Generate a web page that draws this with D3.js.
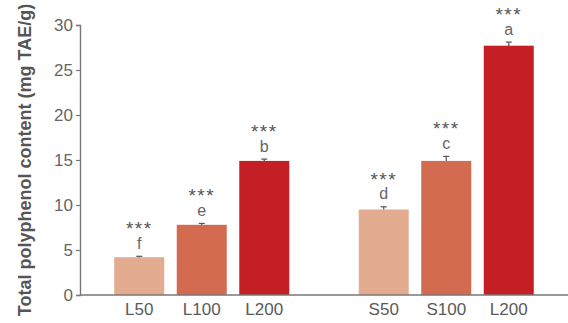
<!DOCTYPE html>
<html>
<head>
<meta charset="utf-8">
<script src="https://cdn.jsdelivr.net/npm/d3@7"></script>
<style>
  html, body { margin: 0; padding: 0; background: #fff; }
  svg { display: block; }
</style>
</head>
<body>
<svg id="chart" width="568" height="323"></svg>
<script>
// Total polyphenol content by extract and concentration
const groups = ["L", "S"];
const labels = [["L50", "L100", "L200"], ["S50", "S100", "L200"]];
const values = [[4.2, 7.8, 14.9], [9.5, 14.9, 27.7]];
const errors = [[0.1, 0.15, 0.2], [0.3, 0.5, 0.4]];
const letters = [["f", "e", "b"], ["d", "c", "a"]];
const signif = [["***", "***", "***"], ["***", "***", "***"]];
const shades = ["#E3AC90", "#D36B50", "#C41F24"];
const yTicks = [0, 5, 10, 15, 20, 25, 30];
const yTitle = "Total polyphenol content (mg TAE/g)";

const W = 568, H = 323;
const m = { top: 25, right: 0, bottom: 28, left: 80 };
const font = "'Liberation Sans', Arial, sans-serif";

const svg = d3.select("#chart");

const y = d3.scaleLinear().domain([0, 30]).range([H - m.bottom, m.top]);
const x0 = d3.scaleBand().domain(groups).range([m.left, W - m.right])
  .paddingInner(0.284).paddingOuter(0.14);
const x1 = d3.scaleBand().domain(d3.range(3)).range([0, x0.bandwidth()])
  .paddingInner(0.2).paddingOuter(0);

const rows = [];
groups.forEach((g, gi) => {
  labels[gi].forEach((lab, i) => {
    rows.push({ g, i, lab, v: values[gi][i], e: errors[gi][i],
                letter: letters[gi][i], sig: signif[gi][i] });
  });
});
const cx = d => x0(d.g) + x1(d.i) + x1.bandwidth() / 2;

// error bars (drawn first so the lower half sits behind the bar)
const eb = svg.append("g").attr("stroke", "#555").attr("stroke-width", 1.2);
rows.forEach(d => {
  eb.append("line").attr("x1", cx(d)).attr("x2", cx(d))
    .attr("y1", y(d.v - d.e)).attr("y2", y(d.v + d.e));
  eb.append("line").attr("x1", cx(d) - 3).attr("x2", cx(d) + 3)
    .attr("y1", y(d.v + d.e)).attr("y2", y(d.v + d.e));
});

// bars
svg.append("g").selectAll("rect").data(rows).join("rect")
  .attr("x", d => x0(d.g) + x1(d.i))
  .attr("width", x1.bandwidth())
  .attr("y", d => y(d.v))
  .attr("height", d => y(0) - y(d.v))
  .attr("fill", d => shades[d.i]);

// y axis
const ya = svg.append("g").attr("transform", `translate(${m.left},0)`)
  .call(d3.axisLeft(y).tickValues(yTicks).tickSize(4).tickPadding(3));
ya.select(".domain").attr("stroke", "#777").attr("stroke-width", 1.4);
ya.selectAll(".tick line").attr("stroke", "#777").attr("stroke-width", 1.2);
ya.selectAll(".tick text").attr("fill", "#666")
  .style("font-family", font).style("font-size", "17px");

// x axis baseline with category labels
const xa = svg.append("g").attr("transform", `translate(0,${y(0)})`);
xa.append("line").attr("x1", m.left).attr("x2", W)
  .attr("stroke", "#777").attr("stroke-width", 1.4);
xa.selectAll("text").data(rows).join("text")
  .attr("x", cx).attr("y", 20)
  .attr("text-anchor", "middle")
  .attr("fill", "#5a5a5a")
  .style("font-family", font).style("font-size", "17px")
  .text(d => d.lab);

// significance stars over the group letter, stacked in one label
const ann = svg.append("g").style("font-family", font);
const lbl = ann.selectAll("text").data(rows).join("text")
  .attr("x", cx).attr("y", d => y(d.v + d.e) - 7.5)
  .attr("text-anchor", "middle");
lbl.append("tspan")
  .attr("x", cx).attr("dy", -13.5)
  .attr("fill", "#555")
  .style("font-size", "19px").style("letter-spacing", "1.5px")
  .text(d => d.sig);
lbl.append("tspan")
  .attr("x", cx).attr("dy", 13.5)
  .attr("fill", "#666")
  .style("font-size", "16px")
  .text(d => d.letter);

// y title
svg.append("text")
  .attr("transform", `translate(31,${(y(0) + y(30)) / 2}) rotate(-90)`)
  .attr("text-anchor", "middle").attr("fill", "#555")
  .style("font-family", font).style("font-size", "18px").style("font-weight", "bold")
  .text(yTitle);
</script>
</body>
</html>
